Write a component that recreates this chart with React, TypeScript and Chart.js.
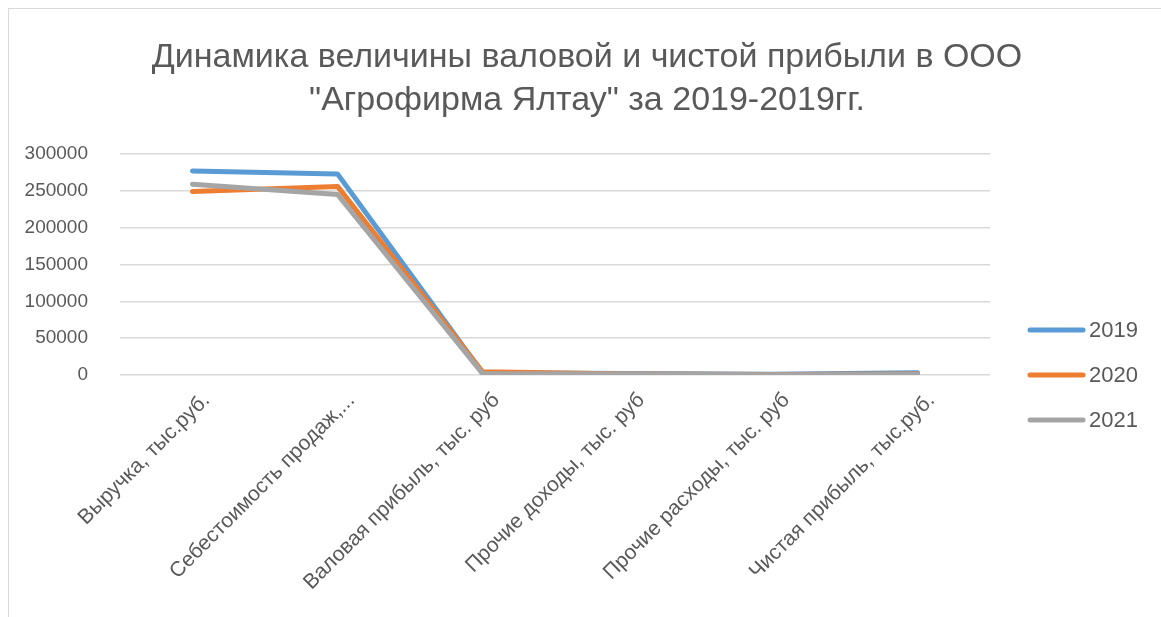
import React, { useEffect, useRef } from "react";
import { Chart, registerables } from "chart.js";

Chart.register(...registerables);

const categories = [
  "Выручка, тыс.руб.",
  "Себестоимость продаж,...",
  "Валовая прибыль, тыс. руб",
  "Прочие доходы, тыс. руб",
  "Прочие расходы, тыс. руб",
  "Чистая прибыль, тыс.руб.",
];
const series2019 = [277000, 273000, 3000, 2000, 1000, 3000];
const series2020 = [249000, 256000, 4500, 1500, 800, 1500];
const series2021 = [259000, 245000, 2000, 1500, 500, 1000];
const seriesNames = ["2019", "2020", "2021"];
const colors = ["#5b9bd5", "#ed7d31", "#a5a5a5"];
const titleLines = [
  "Динамика величины валовой и чистой прибыли в ООО",
  "\"Агрофирма Ялтау\" за 2019-2019гг.",
];

const FONT = "'Liberation Sans', 'DejaVu Sans', sans-serif";
const TEXT = "#595959";

const titlePlugin = {
  id: "customTitle",
  afterDraw(chart: any) {
    const ctx = chart.ctx;
    ctx.save();
    ctx.fillStyle = TEXT;
    ctx.font = `34px ${FONT}`;
    ctx.textAlign = "center";
    ctx.textBaseline = "middle";
    const cx = chart.width / 2 - 2;
    titleLines.forEach((line, i) => {
      ctx.fillText(line, cx, 49 + i * 43);
    });
    ctx.restore();
  },
};

const legendPlugin = {
  id: "customLegend",
  afterDraw(chart: any) {
    const ctx = chart.ctx;
    const area = chart.chartArea;
    const x0 = area.right + 40;
    const yStart = area.bottom - 45;
    ctx.save();
    chart.data.datasets.forEach((ds: any, i: number) => {
      const y = yStart + i * 45;
      ctx.strokeStyle = ds.borderColor;
      ctx.lineWidth = 5;
      ctx.lineCap = "round";
      ctx.beginPath();
      ctx.moveTo(x0, y);
      ctx.lineTo(x0 + 53, y);
      ctx.stroke();
      ctx.fillStyle = TEXT;
      ctx.font = `22px ${FONT}`;
      ctx.textBaseline = "middle";
      ctx.textAlign = "left";
      ctx.fillText(ds.label, x0 + 59, y + 1);
    });
    ctx.restore();
  },
};

export default function App() {
  const ref = useRef<HTMLCanvasElement>(null);
  useEffect(() => {
    if (!ref.current) return;
    const data = [series2019, series2020, series2021];
    const chart = new Chart(ref.current, {
      type: "line",
      data: {
        labels: categories,
        datasets: seriesNames.map((name, i) => ({
          label: name,
          data: data[i],
          borderColor: colors[i],
          backgroundColor: colors[i],
          borderWidth: 5,
          borderCapStyle: "round",
          borderJoinStyle: "round",
          pointRadius: 0,
          tension: 0,
          order: 3 - i,
        })),
      },
      options: {
        responsive: false,
        animation: false,
        devicePixelRatio: 1,
        layout: { padding: { left: 16, right: 179, top: 145, bottom: 25 } },
        plugins: {
          legend: { display: false },
          tooltip: { enabled: false },
          title: { display: false },
        },
        scales: {
          x: {
            offset: true,
            grid: { display: false },
            border: { display: false },
            afterFit: (scale: any) => {
              scale.paddingLeft = 0;
              scale.paddingRight = 0;
            },
            ticks: {
              color: TEXT,
              font: { family: FONT, size: 21 },
              minRotation: 45,
              maxRotation: 45,
              autoSkip: false,
              padding: 5,
              labelOffset: 14,
            },
          },
          y: {
            min: 0,
            max: 300000,
            afterFit: (scale: any) => {
              scale.width = 95;
            },
            grid: { color: "#d9d9d9", lineWidth: 1.5, drawTicks: false },
            border: { display: false },
            ticks: {
              stepSize: 50000,
              color: TEXT,
              font: { family: FONT, size: 19 },
              padding: 32,
              callback: (v: any) => String(v),
            },
          },
        },
      },
      plugins: [titlePlugin, legendPlugin],
    } as any);
    return () => chart.destroy();
  }, []);
  return (
    <div
      style={{
        position: "fixed",
        left: 8,
        top: 8,
        width: 1170,
        height: 630,
        borderLeft: "1px solid #d9d9d9",
        borderTop: "1px solid #d9d9d9",
        background: "#fff",
      }}
    >
      <canvas ref={ref} width={1160} height={612} style={{ display: "block", width: 1160, height: 612 }} />
    </div>
  );
}
